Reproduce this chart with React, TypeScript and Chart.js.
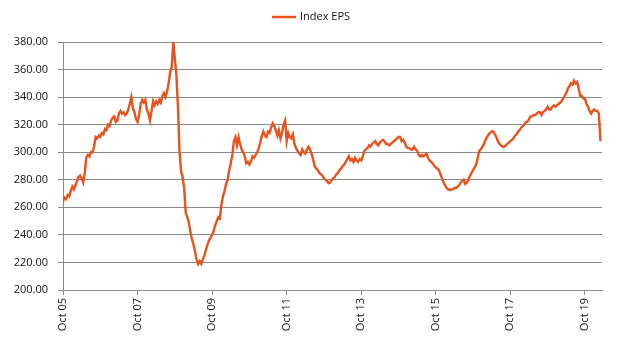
import React, { useEffect, useRef } from "react";
import { Chart, registerables } from "chart.js";

Chart.register(...registerables);

// Index EPS, semi-monthly readings, each block runs Oct -> Sep
const eps0506 = [264, 267, 266, 269, 268, 272, 275, 273, 276, 279, 282, 283, 281, 278, 285, 296, 298, 297, 300, 300, 304, 311, 310, 312];
const eps0607 = [311, 314, 313, 317, 316, 320, 319, 323, 325, 326, 322, 323, 328, 330, 328, 329, 327, 328, 331, 335, 340, 332, 329, 324];
const eps0708 = [322, 327, 335, 338, 336, 338, 331, 328, 323, 330, 337, 334, 337, 335, 338, 336, 341, 343, 340, 344, 350, 358, 362, 380];
const eps0809 = [368, 356, 333, 301, 286, 282, 274, 256, 253, 249, 242, 237, 233, 228, 222, 219, 221, 219, 222, 225, 229, 233, 236, 238];
const eps0910 = [240, 243, 247, 250, 253, 252, 262, 268, 272, 277, 280, 287, 292, 298, 308, 311, 305, 311, 306, 302, 300, 297, 292, 293];
const eps1011 = [291, 293, 297, 296, 298, 300, 303, 307, 312, 315, 312, 311, 315, 314, 318, 321, 319, 316, 312, 316, 310, 314, 320, 323];
const eps1112 = [308, 314, 311, 310, 313, 306, 303, 301, 299, 298, 302, 300, 299, 302, 304, 302, 299, 295, 290, 288, 287, 285, 284, 283];
const eps1213 = [281, 280, 279, 277.5, 278, 280, 281, 282, 284, 285, 287, 288, 290, 291, 293, 295, 297, 294, 295, 293, 296, 294, 293, 295];
const eps1314 = [294, 297, 301, 302, 303, 305, 304, 306, 307, 308, 306, 305, 307, 308, 309, 308, 306, 306, 305, 306, 307, 308, 309, 310];
const eps1415 = [311, 311, 308, 309, 307, 304, 303, 303, 302, 302, 304, 302, 301, 298, 297, 298, 297, 298, 299, 296, 294, 293, 292, 290];
const eps1516 = [289, 288, 287, 284, 281, 278, 276, 274, 273, 272.5, 273, 273, 274, 274, 275, 276, 278, 279, 280, 277, 278, 280, 283, 285];
const eps1617 = [287, 289, 291, 296, 301, 302, 304, 306, 309, 311, 313, 314, 315, 315, 313, 311, 308, 306, 305, 304, 304, 305, 306, 307];
const eps1718 = [308, 309, 310, 312, 313, 315, 316, 318, 319, 320, 322, 322, 324, 326, 326, 327, 327, 328, 329, 329, 327, 329, 330, 331];
const eps1819 = [333, 331, 331, 333, 334, 333, 334, 335, 336, 337, 339, 341, 343, 346, 348, 350, 349, 352, 350, 351, 346, 341, 341, 339];
const eps1920 = [339, 335, 333, 330, 328, 330, 331, 330, 330, 328, 308];

const xTickLabels = ["Oct 05", "Oct 07", "Oct 09", "Oct 11", "Oct 13", "Oct 15", "Oct 17", "Oct 19"];
const seriesLabel = "Index EPS";

const STEPS_PER_YEAR = 24;
const LINE_COLOR = "#E8521C";
const GRID_COLOR = "#8a8a8a";
const TEXT_COLOR = "#111111";
const FONT = "'Open Sans', sans-serif";

const allValues = [
  ...eps0506, ...eps0607, ...eps0708, ...eps0809, ...eps0910, ...eps1011, ...eps1112,
  ...eps1213, ...eps1314, ...eps1415, ...eps1516, ...eps1617, ...eps1718, ...eps1819, ...eps1920,
];

const legendPlugin = {
  id: "epsLegend",
  afterDraw(chart: any) {
    const ctx = chart.ctx;
    ctx.save();
    ctx.strokeStyle = LINE_COLOR;
    ctx.lineWidth = 2.5;
    ctx.beginPath();
    ctx.moveTo(272, 17);
    ctx.lineTo(296, 17);
    ctx.stroke();
    ctx.fillStyle = TEXT_COLOR;
    ctx.font = `11px ${FONT}`;
    ctx.textBaseline = "middle";
    ctx.textAlign = "left";
    ctx.fillText(chart.data.datasets[0].label, 300, 17);
    ctx.restore();
  },
};

export default function App() {
  const ref = useRef<HTMLCanvasElement | null>(null);

  useEffect(() => {
    if (!ref.current) return;
    const data = allValues.map((v, i) => ({ x: i, y: v }));
    const tickValues = xTickLabels.map((_, k) => k * 2 * STEPS_PER_YEAR);
    const chart = new Chart(ref.current, {
      type: "line",
      data: {
        datasets: [
          {
            label: seriesLabel,
            data,
            borderColor: LINE_COLOR,
            backgroundColor: LINE_COLOR,
            borderWidth: 2.4,
            pointRadius: 0,
            tension: 0,
          },
        ],
      },
      options: {
        animation: false,
        responsive: false,
        devicePixelRatio: 1,
        layout: { padding: { top: 42, right: 39, left: 0, bottom: 0 } },
        plugins: {
          legend: { display: false },
          tooltip: { enabled: false },
        },
        scales: {
          x: {
            type: "linear",
            min: 0,
            max: 347,
            afterFit: (scale: any) => {
              scale.height = 62;
            },
            afterBuildTicks: (scale: any) => {
              scale.ticks = tickValues.map((v) => ({ value: v }));
            },
            grid: {
              drawOnChartArea: false,
              drawTicks: true,
              tickLength: 5,
              color: GRID_COLOR,
            },
            border: { display: true, color: GRID_COLOR, width: 1 },
            ticks: {
              autoSkip: false,
              maxRotation: 90,
              minRotation: 90,
              padding: 3,
              color: TEXT_COLOR,
              font: { family: FONT, size: 11 },
              callback: (value: any) => {
                const idx = tickValues.indexOf(Number(value));
                return idx >= 0 ? xTickLabels[idx] : "";
              },
            },
          },
          y: {
            min: 200,
            max: 380,
            afterFit: (scale: any) => {
              scale.width = 63;
            },
            grid: {
              color: GRID_COLOR,
              lineWidth: 1,
              drawTicks: true,
              tickLength: 5,
            },
            border: { display: true, color: GRID_COLOR, width: 1 },
            ticks: {
              stepSize: 20,
              padding: 10,
              color: TEXT_COLOR,
              font: { family: FONT, size: 11 },
              callback: (value: any) => Number(value).toFixed(2),
            },
          },
        },
      },
      plugins: [legendPlugin],
    });
    return () => chart.destroy();
  }, []);

  return (
    <div style={{ position: "absolute", left: 0, top: 0, width: 641, height: 352, background: "#fff" }}>
      <canvas ref={ref} width={641} height={352} />
    </div>
  );
}
